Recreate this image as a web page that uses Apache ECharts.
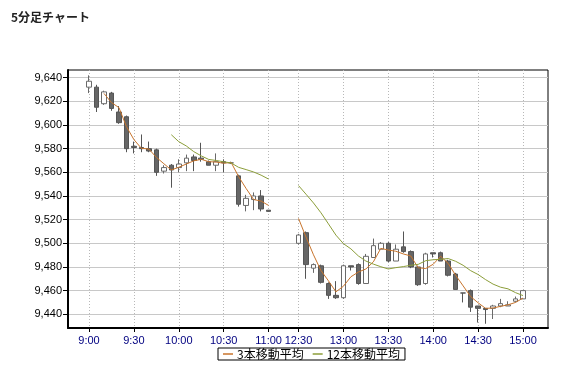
<!DOCTYPE html>
<html>
<head>
<meta charset="utf-8">
<script src="https://cdn.jsdelivr.net/npm/echarts@6/dist/echarts.min.js"></script>
<style>
html,body{margin:0;padding:0;background:#fff;}
#c{width:561px;height:367px;}
</style>
</head>
<body>
<div id="c"></div>
<script>
const categories = ["9:00","9:05","9:10","9:15","9:20","9:25","9:30","9:35","9:40","9:45","9:50","9:55",
"10:00","10:05","10:10","10:15","10:20","10:25","10:30","10:35","10:40","10:45","10:50","10:55","11:00",
""," ","  ",
"12:30","12:35","12:40","12:45","12:50","12:55","13:00","13:05","13:10","13:15","13:20","13:25",
"13:30","13:35","13:40","13:45","13:50","13:55","14:00","14:05","14:10","14:15","14:20","14:25",
"14:30","14:35","14:40","14:45","14:50","14:55","15:00"];

const opens = [9632,9632,9618,9627,9611,9607,9582,9581,9580,9579,9561,9566,9564,9568,9573,9572,9569,9566,9569,9568,9557,9532,9537,9540,9528,
null,null,null,
9500,9509,9479,9481,9466,9456,9454,9481,9482,9466,9488,9495,9500,9485,9497,9493,9480,9466,9492,9492,9485,9474,9458,9460,9447,9445,9445,9447,9447,9451,9453];
const closes = [9637,9615,9628,9614,9602,9580,9581,9580,9578,9560,9564,9562,9567,9572,9570,9571,9566,9569,9568,9568,9533,9538,9540,9529,9527,
null,null,null,
9507,9482,9482,9467,9456,9454,9481,9480,9466,9489,9498,9500,9485,9495,9493,9480,9465,9491,9491,9485,9473,9461,9458,9446,9445,9444,9447,9449,9448,9453,9460];
const lows = [9627,9611,9617,9612,9601,9577,9576,9577,9577,9557,9559,9547,9560,9561,9561,9569,9566,9561,9560,9567,9531,9527,9528,9527,9527,
null,null,null,
9499,9470,9475,9466,9453,9453,9453,9477,9465,9466,9488,9495,9484,9485,9492,9479,9464,9465,9488,9485,9472,9461,9450,9442,9433,9432,9436,9446,9447,9450,9453];
const highs = [9642,9634,9629,9628,9616,9608,9586,9592,9586,9580,9566,9567,9571,9575,9575,9585,9570,9576,9571,9569,9558,9541,9543,9545,9528,
null,null,null,
9508,9510,9483,9482,9467,9468,9482,9481,9483,9491,9504,9501,9501,9499,9510,9494,9481,9492,9492,9493,9486,9475,9458,9461,9447,9445,9448,9453,9451,9455,9460];

const ma3 = [null,null,9626.7,9619.0,9614.7,9598.7,9587.7,9580.3,9579.7,9572.7,9567.3,9562.0,9564.3,9567.0,9569.7,9571.0,9569.0,9568.7,9567.7,9568.3,9556.3,9546.3,9537.0,9535.7,9532.0,
null,null,null,
9521.0,9505.3,9490.3,9477.0,9468.3,9459.0,9463.7,9471.7,9475.7,9478.3,9484.3,9495.7,9494.3,9493.3,9491.0,9489.3,9479.3,9478.7,9482.3,9489.0,9483.0,9473.0,9464.0,9455.0,9449.7,9445.0,9445.3,9446.7,9448.0,9450.0,9453.7];
const ma12 = [null,null,null,null,null,null,null,null,null,null,null,9591.8,9585.9,9582.3,9577.5,9573.9,9570.9,9570.0,9568.9,9567.9,9564.2,9562.3,9560.3,9557.6,9554.3,
null,null,null,
9548.8,9541.5,9534.1,9525.8,9516.4,9506.9,9499.7,9495.3,9489.3,9485.0,9482.4,9480.2,9478.3,9479.4,9480.3,9481.4,9482.2,9485.3,9486.1,9486.5,9487.1,9484.8,9481.4,9476.9,9473.6,9469.3,9465.5,9462.9,9461.5,9458.3,9455.8];

const yTicks = [9440,9460,9480,9500,9520,9540,9560,9580,9600,9620,9640];
const seriesNames = ["3本移動平均","12本移動平均"];

const candleData = categories.map((c, i) =>
  opens[i] == null ? '-' : [opens[i], closes[i], lows[i], highs[i]]);

const YMIN = 9428.4, YMAX = 9646.5;
const isMark = (idx, val) => /:(00|30)$/.test(val);

const chart = echarts.init(document.getElementById('c'), null, {renderer: 'canvas'});
chart.setOption({
  animation: false,
  backgroundColor: '#fff',
  title: {
    text: '5分足チャート', left: 6, top: 6,
    textStyle: {fontSize: 12, fontWeight: 'bold', color: '#222', fontFamily: 'Noto Sans CJK JP'}
  },
  legend: {
    data: seriesNames,
    left: 218, top: 348,
    padding: [0, 5],
    itemGap: 9,
    itemWidth: 10, itemHeight: 1.5,
    icon: 'rect',
    borderColor: '#000', borderWidth: 1,
    textStyle: {fontSize: 12, color: '#000', fontFamily: 'Noto Sans CJK JP', padding: [0,0,0,-1]}
  },
  grid: [
    {left: 68, top: 70, width: 480, height: 258, show: true, borderColor: '#000', borderWidth: 1, backgroundColor: 'transparent'},
    {left: 89, top: 70, width: 434, height: 258}
  ],
  xAxis: [
    {type: 'value', gridIndex: 0, min: 0, max: 1,
     axisLine: {show: true, onZero: false, lineStyle: {color: '#000', width: 2}},
     axisTick: {show: false}, axisLabel: {show: false}, splitLine: {show: false}},
    {type: 'category', gridIndex: 1, data: categories, boundaryGap: false,
     axisLine: {show: false},
     axisTick: {show: true, length: 4, interval: isMark, lineStyle: {color: '#000'}},
     axisLabel: {interval: isMark, color: '#000080', fontSize: 11, margin: 7, fontFamily: 'Liberation Sans'},
     splitLine: {show: true, interval: isMark, lineStyle: {color: '#b8b8b8', type: [1, 2], width: 1}}}
  ],
  yAxis: [
    {type: 'value', gridIndex: 0, min: YMIN, max: YMAX,
     axisLine: {show: true, lineStyle: {color: '#000', width: 2}},
     axisTick: {show: true, length: 5, customValues: yTicks, lineStyle: {color: '#000'}},
     axisLabel: {customValues: yTicks, color: '#000', fontSize: 11, margin: 6, fontFamily: 'Liberation Sans',
       formatter: v => Number(v).toLocaleString('en-US')},
     splitLine: {show: true, lineStyle: {color: '#c8c8c8', width: 1}}},
    {type: 'value', gridIndex: 1, min: YMIN, max: YMAX, show: false, splitLine: {show: false}}
  ],
  series: [
    {type: 'candlestick', xAxisIndex: 1, yAxisIndex: 1, data: candleData, barWidth: 5, clip: false,
     itemStyle: {color: '#ffffff', color0: '#666666', borderColor: '#6a6a6a', borderColor0: '#555555', borderWidth: 1}},
    {name: seriesNames[0], type: 'line', xAxisIndex: 1, yAxisIndex: 1, data: ma3, symbol: 'none', connectNulls: false,
     itemStyle: {color: '#c8742c'}, lineStyle: {color: '#c8742c', width: 1}},
    {name: seriesNames[1], type: 'line', xAxisIndex: 1, yAxisIndex: 1, data: ma12, symbol: 'none', connectNulls: false,
     itemStyle: {color: '#8c9e3a'}, lineStyle: {color: '#8c9e3a', width: 1}}
  ]
});
</script>
</body>
</html>
